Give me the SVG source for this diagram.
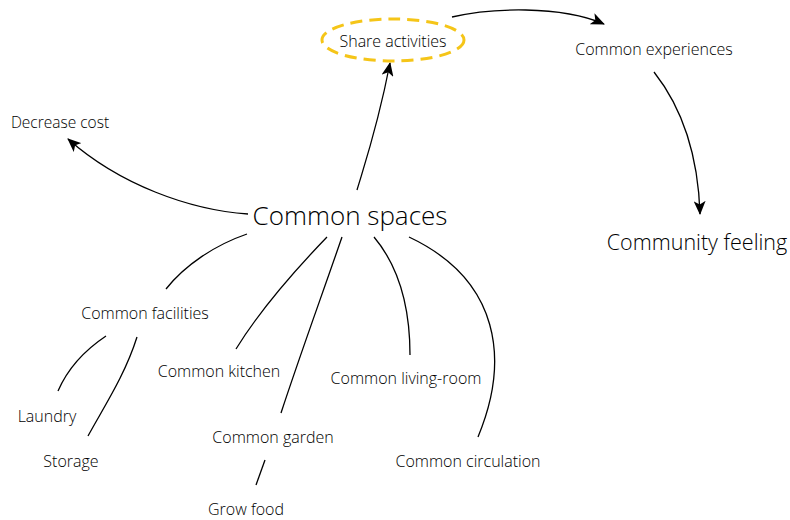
<svg xmlns="http://www.w3.org/2000/svg" width="790" height="520" viewBox="0 0 790 520">
  <style>
    text { font-family: "Open Sans", "Noto Sans", "Liberation Sans", sans-serif; font-weight: 300; fill: #000; text-anchor: middle; dominant-baseline: central; }
    .s { font-size: 15.5px; }
    .m { font-size: 16px; }
    .l { font-size: 21.5px; }
    .xl { font-size: 26px; }
    .link { fill: none; stroke: #000; stroke-width: 1.3; }
  </style>
  <defs>
    <marker id="arrow" viewBox="0 0 14 12" refX="13" refY="6" markerWidth="14" markerHeight="12" markerUnits="userSpaceOnUse" orient="auto">
      <path d="M0,0 L14,6 L0,12 L3.5,6 z" fill="#000"/>
    </marker>
  </defs>
  <rect width="790" height="520" fill="#fff"/>

  <g id="connectors">
    <path class="link" d="M248,214 C190,210 120,185 68,139" marker-end="url(#arrow)"/>
    <path class="link" d="M357,190 C366,160 378,125 390,63" marker-end="url(#arrow)"/>
    <path class="link" d="M452,17 C490,8 560,5 604,24" marker-end="url(#arrow)"/>
    <path class="link" d="M654,72 C680,105 698,150 700,214" marker-end="url(#arrow)"/>
    <path class="link" d="M247,234 C215,245 185,265 166,289"/>
    <path class="link" d="M106,336 C85,350 68,368 58,391"/>
    <path class="link" d="M137,337 C125,375 105,405 88,436"/>
    <path class="link" d="M327,237 C300,265 260,310 236,349"/>
    <path class="link" d="M342,237 C322,295 300,355 281,413"/>
    <path class="link" d="M265,460 L256,485"/>
    <path class="link" d="M374,237 C395,262 410,300 410,355"/>
    <path class="link" d="M409,237 C500,280 510,360 478,437"/>
  </g>

  <g id="share-activities">
    <ellipse cx="393" cy="40" rx="71" ry="21" fill="none" stroke="#F5C518" stroke-width="3" stroke-dasharray="12 7"/>
    <text class="m" x="393" y="41">Share activities</text>
  </g>
  <g id="common-experiences"><text class="m" x="654" y="49">Common experiences</text></g>
  <g id="community-feeling"><text class="l" x="697" y="241">Community feeling</text></g>
  <g id="decrease-cost"><text class="s" x="60" y="122">Decrease cost</text></g>
  <g id="common-spaces"><text class="xl" x="350" y="215">Common spaces</text></g>
  <g id="common-facilities"><text class="m" x="145" y="313">Common facilities</text></g>
  <g id="laundry"><text class="m" x="47" y="416">Laundry</text></g>
  <g id="storage"><text class="m" x="71" y="461">Storage</text></g>
  <g id="common-kitchen"><text class="m" x="219" y="371">Common kitchen</text></g>
  <g id="common-garden"><text class="m" x="273" y="437">Common garden</text></g>
  <g id="grow-food"><text class="m" x="246" y="509">Grow food</text></g>
  <g id="common-living-room"><text class="m" x="406" y="378">Common living-room</text></g>
  <g id="common-circulation"><text class="m" x="468" y="461">Common circulation</text></g>
</svg>
